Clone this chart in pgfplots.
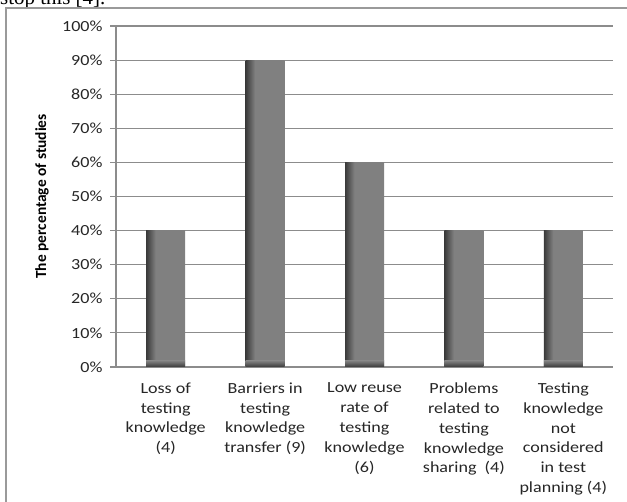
\documentclass[border=0pt]{standalone}
\usepackage{pgfplots}
\pgfplotsset{compat=1.18}
\usepackage{graphicx}
\usepackage{fontspec}
\setmainfont{Carlito}
\newfontfamily\seriffont{Liberation Serif}
\definecolor{barDark}{HTML}{3A3A3A}
\definecolor{barMid}{HTML}{808080}
\definecolor{gridGray}{HTML}{8C8C8C}
\definecolor{frameGray}{HTML}{9A9A9A}
\newcommand{\sx}[1]{\scalebox{1.17}[1]{#1}}
\pgfdeclarehorizontalshading{barshade}{100bp}{color(0bp)=(barDark); color(25bp)=(barDark); color(37bp)=(barMid); color(100bp)=(barMid)}
\pgfdeclareverticalshading{botshade}{100bp}{color(0bp)=(barDark); color(25bp)=(barDark); color(75bp)=(barMid); color(100bp)=(barMid)}
\pgfplotsset{mybar/.style={ybar, bar width=39bp, bar shift=0pt, draw=none, shading=barshade},
  mybot/.style={ybar, bar width=39bp, bar shift=0pt, draw=none, shading=botshade}}
\begin{document}
\begin{tikzpicture}[x=1bp,y=1bp]
\path[use as bounding box] (-116,-135) rectangle (511,367);
\node[anchor=base west, inner sep=0pt, font=\seriffont\fontsize{21}{24}\selectfont] at (-116,362) {stop this [4].};
\draw[frameGray, line width=1.3bp] (-110,-150) -- (-110,359) -- (530,359);
\begin{axis}[
  at={(0,0)}, anchor=south west,
  scale only axis, width=497bp, height=341bp,
  xmin=-0.5, xmax=4.5, ymin=0, ymax=100,
  ytick={0,10,...,100},
  yticklabel={\sx{\pgfmathprintnumber{\tick}\%}},
  /pgf/number format/assume math mode=true,
  xtick={0,1,2,3,4},
  xticklabels={{\sx{Loss of}\\\sx{testing}\\\sx{knowledge}\\\sx{(4)}},{\sx{Barriers in}\\\sx{testing}\\\sx{knowledge}\\\sx{transfer (9)}},{\sx{Low reuse}\\\sx{rate of}\\\sx{testing}\\\sx{knowledge}\\\sx{(6)}},{\sx{Problems}\\\sx{related to}\\\sx{testing}\\\sx{knowledge}\\\sx{sharing\ \ (4)}},{\sx{Testing}\\\sx{knowledge}\\\sx{not}\\\sx{considered}\\\sx{in test}\\\sx{planning (4)}}},
  xticklabel style={align=center, font=\fontsize{15.5}{20}\selectfont, text=black!85, yshift=-6bp},
  yticklabel style={font=\fontsize{15.5}{18}\selectfont, text=black!85, xshift=-4bp},
  x tick style={draw=none},
  y tick style={gridGray, line width=1.1bp},
  major tick length=6bp, tick align=outside,
  ymajorgrids, grid style={gridGray, line width=1.1bp},
  axis x line*=bottom, axis y line*=left,
  axis line style={gridGray, line width=1.1bp, -},
  ylabel={\bfseries The percentage of studies},
  ylabel style={at={(axis description cs:-0.149,0.5)}, anchor=center, rotate=0, font=\fontsize{15.5}{18}\selectfont},
]
\addplot[mybar] coordinates {(0,40)};
\addplot[mybar] coordinates {(1,90)};
\addplot[mybar] coordinates {(2,60)};
\addplot[mybar] coordinates {(3,40)};
\addplot[mybar] coordinates {(4,40)};
\addplot[mybot] coordinates {(0,1.8)};
\addplot[mybot] coordinates {(1,1.8)};
\addplot[mybot] coordinates {(2,1.8)};
\addplot[mybot] coordinates {(3,1.8)};
\addplot[mybot] coordinates {(4,1.8)};
\end{axis}
\end{tikzpicture}
\end{document}
